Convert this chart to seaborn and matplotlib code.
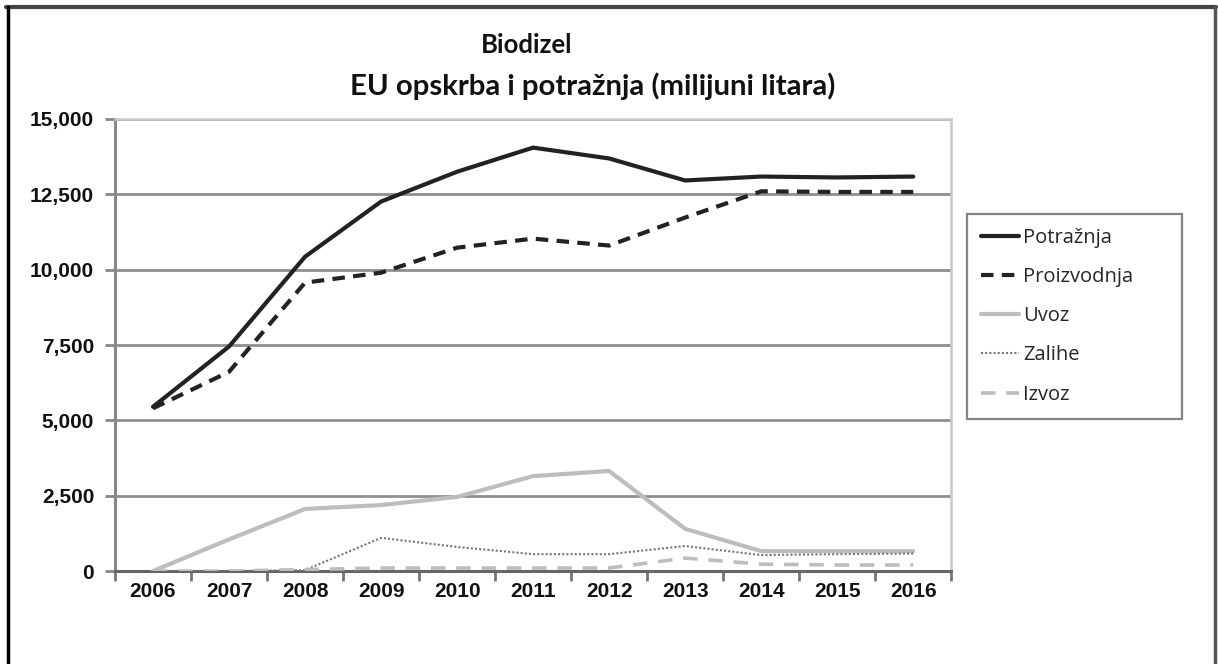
import matplotlib
matplotlib.use("Agg")
import matplotlib.pyplot as plt
import seaborn as sns
import pandas as pd
from matplotlib.lines import Line2D
from matplotlib.ticker import FuncFormatter, FixedLocator

# podaci (milijuni litara), procijenjeno s grafa
godine = [2006, 2007, 2008, 2009, 2010, 2011, 2012, 2013, 2014, 2015, 2016]
potraznja = [5450, 7450, 10430, 12260, 13250, 14050, 13690, 12960, 13090, 13060, 13090]
proizvodnja = [5400, 6610, 9570, 9900, 10730, 11030, 10800, 11730, 12600, 12580, 12580]
uvoz = [0, 1050, 2060, 2190, 2460, 3150, 3320, 1400, 660, 660, 660]
zalihe = [0, 0, 30, 1100, 800, 560, 560, 830, 530, 560, 580]
izvoz = [0, 0, 50, 100, 100, 100, 100, 430, 230, 200, 200]

serije = ['Potražnja', 'Proizvodnja', 'Uvoz', 'Zalihe', 'Izvoz']
vrijednosti = [potraznja, proizvodnja, uvoz, zalihe, izvoz]

df = pd.DataFrame({'idx': list(range(len(godine))) * len(serije),
                   'serija': [s for s in serije for _ in godine],
                   'vrijednost': [v for vals in vrijednosti for v in vals]})

sns.set_style("white")
plt.rcParams['font.family'] = ['Open Sans', 'DejaVu Sans']

fig = plt.figure(figsize=(12.18, 6.64), dpi=100)
ax = fig.add_axes([0.0944, 0.140, 0.6866, 0.6808])

stilovi = {
    'Potražnja': dict(color='#222222', lw=3.0, ls='-'),
    'Proizvodnja': dict(color='#222222', lw=3.0, ls=(0, (3, 2))),
    'Uvoz': dict(color='#bdbdbd', lw=3.0, ls='-'),
    'Zalihe': dict(color='#777777', lw=1.5, ls=(0, (1, 1))),
    'Izvoz': dict(color='#bdbdbd', lw=2.6, ls=(0, (4, 3))),
}

# gridlines first
for yv in range(2500, 15001, 2500):
    ax.axhline(yv, color='#8f8f8f', lw=2.0, zorder=1)

for s in serije:
    st = stilovi[s]
    sns.lineplot(data=df[df.serija == s], x='idx', y='vrijednost', ax=ax,
                 color=st['color'], lw=st['lw'], linestyle=st['ls'],
                 zorder=3, legend=False)

ax.set_xlim(-0.5, 10.5)
ax.set_ylim(0, 15000)
ax.set_xlabel('')
ax.set_ylabel('')

ax.xaxis.set_major_locator(FixedLocator(list(range(len(godine)))))
ax.set_xticklabels([str(g) for g in godine])
ax.xaxis.set_minor_locator(FixedLocator([i - 0.5 for i in range(len(godine) + 1)]))
ax.tick_params(axis='x', which='major', length=0, pad=8)
ax.tick_params(axis='x', which='minor', length=7, width=2, color='#777777', direction='out', bottom=True)
ax.set_yticks(range(0, 15001, 2500))
ax.yaxis.set_major_formatter(FuncFormatter(lambda v, p: f'{int(v):,}'))
ax.tick_params(axis='y', length=7, width=2, color='#888888', direction='out', left=True, pad=8)

for lab in ax.get_xticklabels() + ax.get_yticklabels():
    lab.set_fontfamily('Liberation Sans')
    lab.set_fontweight('bold')
    lab.set_fontsize(15)
    lab.set_color('#111111')

ax.spines['left'].set_color('#888888')
ax.spines['left'].set_linewidth(2.2)
ax.spines['bottom'].set_color('#666666')
ax.spines['bottom'].set_linewidth(2.2)
ax.spines['top'].set_color('#c8c8c8')
ax.spines['top'].set_linewidth(1.8)
ax.spines['right'].set_color('#c8c8c8')
ax.spines['right'].set_linewidth(1.8)

fig.text(0.432, 0.932, 'Biodizel', ha='center', va='center', fontsize=18.5, fontweight='bold',
         color='#111111', family=['Lato', 'DejaVu Sans'])
fig.text(0.4865, 0.870, 'EU opskrba i potražnja (milijuni litara)', ha='center', va='center',
         fontsize=21.2, fontweight='bold', color='#111111', family=['Lato', 'DejaVu Sans'])

handles = [Line2D([], [], color=stilovi[s]['color'], lw=stilovi[s]['lw'], linestyle=stilovi[s]['ls'])
           for s in serije]
leg = fig.legend(handles, serije, loc='upper left',
                 bbox_to_anchor=(967 / 1218, 1 - 214 / 664, (1182 - 967) / 1218, 0), mode='expand',
                 borderaxespad=0, frameon=True, fancybox=False, fontsize=14.5, handlelength=1.9,
                 handletextpad=0.2, labelspacing=0.95, borderpad=0.7)
leg.get_frame().set_edgecolor('#666666')
leg.get_frame().set_linewidth(1.6)

# okvir slike
fig.add_artist(Line2D([0.005, 0.998], [0.990, 0.990], transform=fig.transFigure, color='#444444', lw=3))
fig.add_artist(Line2D([0.0066, 0.0066], [0.0, 0.990], transform=fig.transFigure, color='#000000', lw=2.5))
fig.add_artist(Line2D([0.9975, 0.9975], [0.0, 0.990], transform=fig.transFigure, color='#555555', lw=2.5))

fig.savefig('out.png', dpi=100)
